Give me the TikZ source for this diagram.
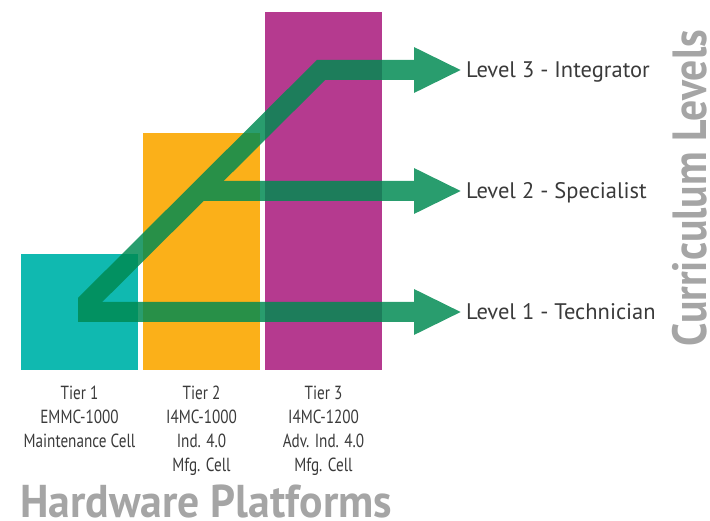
\documentclass[tikz,border=0pt]{standalone}
\usepackage{fontspec}
\setmainfont{PT Sans}
\newfontfamily\tierfont{PT Sans}[FakeStretch=0.8]
\newfontfamily\headfont{PT Sans}[FakeStretch=0.95]
\newfontfamily\sidefont{PT Sans}[FakeStretch=0.87]
\usetikzlibrary{arrows.meta, positioning}
\definecolor{tealbar}{HTML}{10B9B0}
\definecolor{orangebar}{HTML}{FBB019}
\definecolor{magentabar}{HTML}{B53A8F}
\definecolor{trackgreen}{HTML}{008A52}
\definecolor{labelgray}{HTML}{3A3A3A}
\definecolor{titlegray}{HTML}{A5A5A5}
\tikzstyle{bar} = [rectangle, minimum width=117pt, inner sep=0, outer sep=0, anchor=south west]
\tikzstyle{tier} = [align=center, anchor=north, inner sep=0, text=labelgray, font=\tierfont\fontsize{19}{23.8}\selectfont]
\tikzstyle{level} = [anchor=west, inner sep=0, text height=16pt, text depth=0pt, text=labelgray, font=\fontsize{22.5}{26}\selectfont]
\tikzstyle{title} = [inner sep=0, anchor=base west, text depth=0pt, text=titlegray]
\tikzstyle{track} = [line width=20pt, draw=trackgreen, line join=miter, shorten >=4pt, -{Triangle[length=48pt, width=42pt]}]

\begin{document}
\begin{tikzpicture}[x=1pt, y=-1pt]
\useasboundingbox (0,0) rectangle (710,521);
% hardware bars
\node (bar1) [bar, fill=tealbar, minimum height=116pt] at (21,370) {};
\node (bar2) [bar, fill=orangebar, minimum height=237pt, right=5pt of bar1.south east, anchor=south west] {};
\node (bar3) [bar, fill=magentabar, minimum height=358pt, right=5pt of bar2.south east, anchor=south west] {};

% curriculum levels
\node (lvl3) [level] at (466,70) {Level 3 - Integrator};
\node (lvl2) [level] at (466,191) {Level 2 - Specialist};
\node (lvl1) [level] at (466,312) {Level 1 - Technician};

\coordinate (start) at (78,312);
\coordinate (elbow) at (321,70);
\coordinate (branch) at (198,191);

\begin{scope}[transparency group, opacity=0.84]
\clip (78,0) rectangle (710,521);
\draw [track] (start) -- (lvl1.west);
\draw [track] (branch) -- (lvl2.west);
\draw [track] (start) -- (elbow) -- (lvl3.west);
\end{scope}

% tier captions
\node (cap1) [tier, below=16pt of bar1.south] {Tier 1\\EMMC-1000\\Maintenance Cell};
\node (cap2) [tier, below=16pt of bar2.south] {Tier 2\\I4MC-1000\\Ind. 4.0\\Mfg. Cell};
\node (cap3) [tier, below=16pt of bar3.south] {Tier 3\\I4MC-1200\\Adv. Ind. 4.0\\Mfg. Cell};

% axis titles
\node (hwtitle) [title, font=\headfont\bfseries\fontsize{46}{46}\selectfont] at (20,517) {Hardware Platforms};
\node (cltitle) [title, rotate=90, font=\sidefont\bfseries\fontsize{48}{48}\selectfont] at (706,347) {Curriculum Levels};
\end{tikzpicture}
\end{document}
